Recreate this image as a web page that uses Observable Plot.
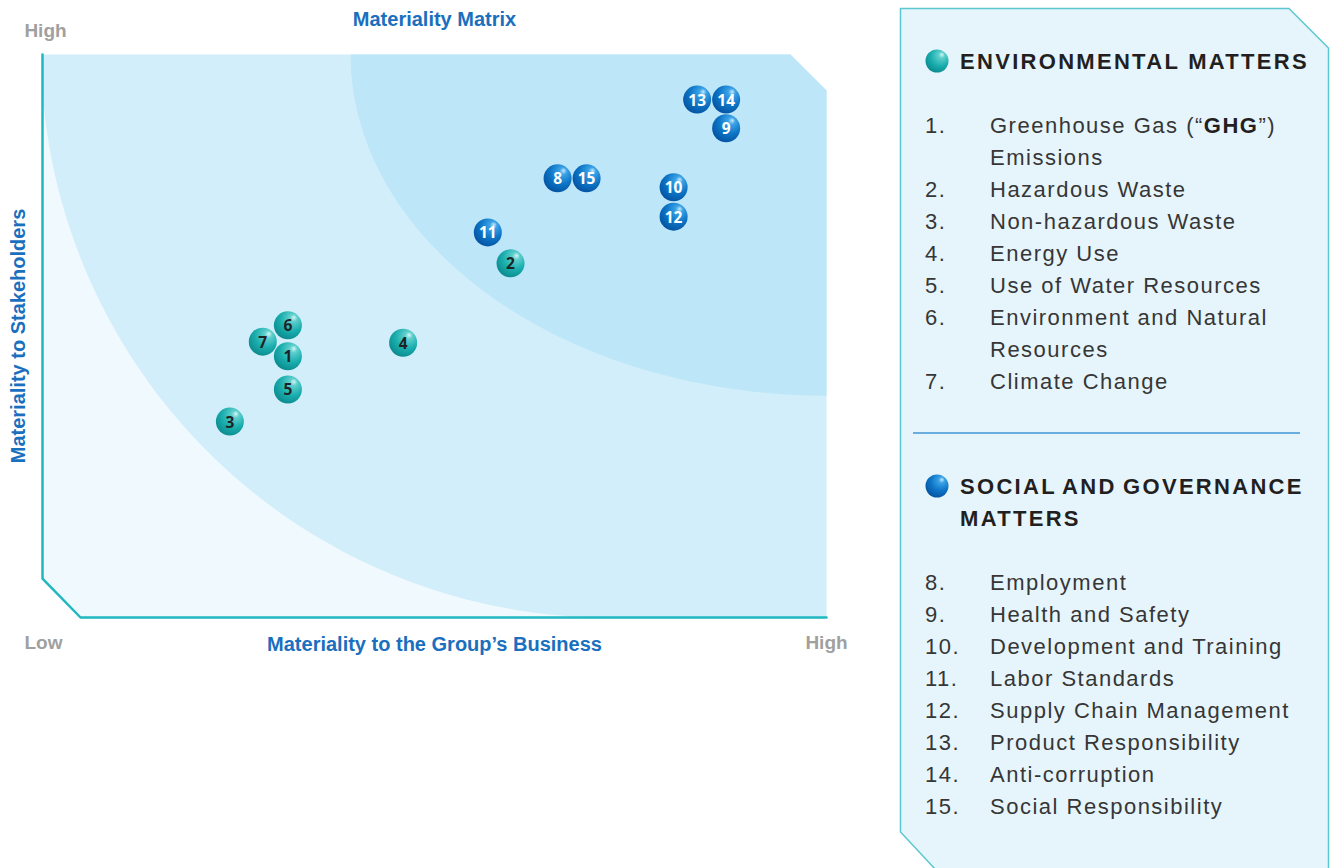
<!DOCTYPE html>
<html><head><meta charset="utf-8">
<script src="https://cdn.jsdelivr.net/npm/d3@7"></script>
<script src="https://cdn.jsdelivr.net/npm/@observablehq/plot@0.6"></script>
<style>
body{margin:0;background:#fff;width:1330px;height:868px;overflow:hidden;position:relative;font-family:"Liberation Sans",Arial,sans-serif}
#chart{position:absolute;left:0;top:0}
#legend{position:absolute;left:0;top:0;width:1330px;height:868px}
.t{position:absolute;white-space:nowrap;line-height:32px;height:32px}
.item{font-size:22px;color:#363636;letter-spacing:1.5px}
.head{font-size:22px;font-weight:bold;color:#231f20;letter-spacing:2.3px}
</style></head>
<body>
<div id="chart"></div>
<div id="legend"></div>
<script>
// ---- data ----
const ids = [1,2,3,4,5,6,7,8,9,10,11,12,13,14,15];
const business =     [3.13,5.97,2.39,4.60,3.13,3.13,2.81,6.57,8.72,8.05,5.68,8.05,8.35,8.72,6.94];
const stakeholders = [4.64,6.29,3.48,4.88,4.05,5.19,4.90,7.80,8.69,7.64,6.84,7.12,9.20,9.20,7.80];
const groupOf = id => id <= 7 ? "Environmental" : "Social";
const envTitle = "ENVIRONMENTAL MATTERS";
const socTitle = ["SOCIAL AND GOVERNANCE","MATTERS"];
const envLabels = [["Greenhouse Gas (“GHG”)","Emissions"],["Hazardous Waste"],["Non-hazardous Waste"],["Energy Use"],["Use of Water Resources"],["Environment and Natural","Resources"],["Climate Change"]];
const socLabels = [["Employment"],["Health and Safety"],["Development and Training"],["Labor Standards"],["Supply Chain Management"],["Product Responsibility"],["Anti-corruption"],["Social Responsibility"]];
const axisText = {title:"Materiality Matrix", xLabel:"Materiality to the Group’s Business", yLabel:"Materiality to Stakeholders", low:"Low", high:"High"};

const points = ids.map((id,i)=>({id, x:business[i], y:stakeholders[i], group:groupOf(id)}));

// ---- background zones (decoration, in data units) ----
const chamferBL = {x:0.485, y:0.69}, chamferTR = {x:9.54, y:9.36};
const frameShape = [{x:0,y:10},{x:0,y:chamferBL.y},{x:chamferBL.x,y:0},{x:10,y:0},{x:10,y:chamferTR.y},{x:chamferTR.x,y:10}];
function ellipseArc(cx,cy,rx,ry,t0,t1,n=80){
  const out=[]; for(let k=0;k<=n;k++){const t=t0+(t1-t0)*k/n; out.push({x:cx+rx*Math.cos(t), y:cy+ry*Math.sin(t)});} return out;
}
const oc = {cx:7.22, cy:10.09, rx:7.24, ry:10.09};
const ot0 = Math.PI + Math.acos(Math.min(1, oc.cx/oc.rx));
const outerArc = ellipseArc(oc.cx,oc.cy,oc.rx,oc.ry,1.5*Math.PI,ot0);
const lightZone = [{x:0,y:outerArc[outerArc.length-1].y},{x:0,y:chamferBL.y},{x:chamferBL.x,y:0},...outerArc];
const ic = {cx:10, cy:10, rx:6.07, ry:6.06};
const innerArc = ellipseArc(ic.cx,ic.cy,ic.rx,ic.ry,Math.PI,1.5*Math.PI);
const darkZone = [...innerArc,{x:10,y:chamferTR.y},{x:chamferTR.x,y:10}];
const border = [{x:0,y:10},{x:0,y:chamferBL.y},{x:chamferBL.x,y:0},{x:10,y:0}];

const FF = "Liberation Sans, Arial, sans-serif";
const lab = {fontWeight:"bold",fontFamily:FF,lineAnchor:"middle"};
const svg = Plot.plot({
  width:860, height:680,
  marginLeft:42, marginRight:34, marginTop:54, marginBottom:63,
  x:{domain:[0,10], axis:null},
  y:{domain:[0,10], axis:null},
  style:{background:"transparent", overflow:"visible"},
  marks:[
    Plot.line(frameShape,{x:"x",y:"y",fill:"#d1eefa",stroke:"none"}),
    Plot.line(lightZone,{x:"x",y:"y",fill:"#f0f9fd",stroke:"none"}),
    Plot.line(darkZone,{x:"x",y:"y",fill:"#bde6f8",stroke:"none"}),
    Plot.line(border,{x:"x",y:"y",stroke:"#1fb8c0",strokeWidth:2.5}),
    Plot.dot(points,{x:"x",y:"y",r:14,stroke:"none",fill:d=>d.group==="Environmental"?"url(#gTeal)":"url(#gBlue)"}),
    Plot.text(points,{x:"x",y:"y",text:d=>String(d.id),dy:1,fontSize:15.5,fontWeight:"bold",fontFamily:"Open Sans, sans-serif",fill:d=>d.group==="Environmental"?"#1e2424":"#ffffff"}),
    Plot.text([axisText.title],{...lab,frameAnchor:"top",dy:-35,textAnchor:"middle",fill:"#1a6fbe",fontSize:20}),
    Plot.text([axisText.high],{...lab,frameAnchor:"top-left",dx:3,dy:-24,textAnchor:"middle",fill:"#a0a0a0",fontSize:19}),
    Plot.text([axisText.low],{...lab,frameAnchor:"bottom-left",dx:1,dy:25,textAnchor:"middle",fill:"#a0a0a0",fontSize:19}),
    Plot.text([axisText.high],{...lab,frameAnchor:"bottom-right",dx:0,dy:25,textAnchor:"middle",fill:"#a0a0a0",fontSize:19}),
    Plot.text([axisText.xLabel],{...lab,frameAnchor:"bottom",dy:27,textAnchor:"middle",fill:"#1a6fbe",fontSize:20}),
    Plot.text([axisText.yLabel],{...lab,frameAnchor:"left",dx:-24,rotate:-90,textAnchor:"middle",fill:"#1a6fbe",fontSize:20})
  ]
});
const gradDefs = `
<radialGradient id="gTeal" cx="0.62" cy="0.32" r="0.72" fx="0.72" fy="0.22">
 <stop offset="0" stop-color="#d6f6f4"/><stop offset="0.18" stop-color="#5fcfcd"/><stop offset="0.6" stop-color="#1aaeae"/><stop offset="1" stop-color="#0b8a8d"/>
</radialGradient>
<radialGradient id="gBlue" cx="0.62" cy="0.32" r="0.72" fx="0.72" fy="0.22">
 <stop offset="0" stop-color="#c5e9fc"/><stop offset="0.18" stop-color="#3aa2e6"/><stop offset="0.6" stop-color="#0d74c6"/><stop offset="1" stop-color="#0552a0"/>
</radialGradient>`;
const defs = document.createElementNS("http://www.w3.org/2000/svg","defs");
defs.innerHTML = gradDefs;
svg.insertBefore(defs, svg.firstChild);
document.getElementById("chart").appendChild(svg);

// ---- legend panel ----
const leg = document.getElementById("legend");
leg.innerHTML = `<svg width="1330" height="868" style="position:absolute;left:0;top:0">
<defs>${gradDefs.replace(/gTeal/,"lTeal").replace(/gBlue/,"lBlue")}</defs>
<polygon points="900.5,8.5 1289,8.5 1328.5,48 1328.5,870 936,870 900.5,832" fill="#e6f5fc" stroke="#5cc7cf" stroke-width="1.5"/>
<line x1="913" x2="1300" y1="433" y2="433" stroke="#6aaee0" stroke-width="2"/>
<circle cx="937" cy="61" r="11.5" fill="url(#lTeal)"/>
<circle cx="937" cy="486" r="11.5" fill="url(#lBlue)"/>
</svg>`;
function addText(cls, left, cy, html, extraStyle=""){
  const d=document.createElement("div"); d.className="t "+cls; d.style.left=left+"px"; d.style.top=(cy-16)+"px";
  if(extraStyle) d.style.cssText += extraStyle;
  d.innerHTML=html; leg.appendChild(d);
}
const fmt = s => s.replace("GHG","<b style='color:#231f20'>GHG</b>");
addText("head",960,62,envTitle);
addText("head",960,487,socTitle[0],"word-spacing:-2px");
addText("head",960,519,socTitle[1]);
let cy=126;
envLabels.forEach((lines,i)=>{ addText("item",925,cy,(i+1)+"."); lines.forEach(l=>{addText("item",990,cy,fmt(l)); cy+=32;}); });
cy=583;
socLabels.forEach((lines,i)=>{ addText("item",925,cy,(i+8)+"."); lines.forEach(l=>{addText("item",990,cy,l); cy+=32;}); });
</script>
</body></html>
